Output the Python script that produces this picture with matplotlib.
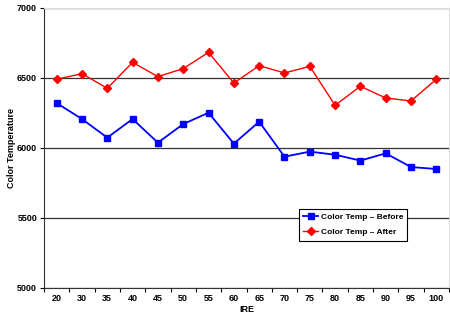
import matplotlib
matplotlib.use("Agg")
import matplotlib.pyplot as plt
import numpy as np

plt.rcParams['font.family'] = ['Liberation Sans', 'DejaVu Sans']

ire = ['20', '30', '35', '40', '45', '50', '55', '60', '65',
       '70', '75', '80', '85', '90', '95', '100']
temp_before = [6321, 6207, 6074, 6207, 6038, 6171, 6252, 6031, 6188,
               5938, 5974, 5952, 5910, 5962, 5864, 5850]
temp_after = [6491, 6531, 6426, 6612, 6510, 6567, 6683, 6464, 6588,
              6536, 6583, 6305, 6441, 6357, 6336, 6491]

fig = plt.figure(figsize=(4.5, 3.22), dpi=100)
ax = fig.add_axes([44 / 450, 1 - 288 / 322, 405 / 450, 280 / 322])

x = np.arange(len(ire))
ax.plot(x, temp_before, color='#0000FF', lw=1.3, marker='s', ms=4.6,
        label='Color Temp \u2013 Before')
ax.plot(x, temp_after, color='#FF0000', lw=1.0, marker='D', ms=3.6,
        label='Color Temp \u2013 After')

ax.set_xlim(-0.5, len(ire) - 0.5)
ax.set_ylim(5000, 7000)
ax.set_yticks([5000, 5500, 6000, 6500, 7000])
ax.yaxis.grid(True, color='#333333', lw=0.9)
ax.set_axisbelow(True)

ax.set_xticks(x)
ax.set_xticklabels(ire)
ax.set_xticks(np.arange(len(ire) + 1) - 0.5, minor=True)
ax.tick_params(axis='x', which='major', length=0, pad=4)
ax.tick_params(axis='x', which='minor', length=3, width=0.8, direction='out')
ax.tick_params(axis='y', length=3, width=0.8, direction='out', pad=2)
for lab in ax.get_xticklabels() + ax.get_yticklabels():
    lab.set_fontsize(6.5)
    lab.set_fontweight('bold')

ax.spines['left'].set_color('#333333')
ax.spines['bottom'].set_color('#333333')
ax.spines['top'].set_color('#DDDDDD')
ax.spines['right'].set_color('#DDDDDD')

ax.set_ylabel('Color Temperature', fontsize=6.5, fontweight='bold', labelpad=1)
ax.set_xlabel('IRE', fontsize=6.5, fontweight='bold', labelpad=2)

leg = ax.legend(loc='upper left', bbox_to_anchor=(299 / 450, 1 - 209 / 322),
                bbox_transform=fig.transFigure, fancybox=False, framealpha=1,
                edgecolor='black', prop={'size': 6, 'weight': 'bold'},
                handlelength=1.8, handletextpad=0.3, borderpad=0.5,
                labelspacing=0.9, borderaxespad=0)
leg.get_frame().set_linewidth(0.8)

fig.savefig('out.png', dpi=100)
